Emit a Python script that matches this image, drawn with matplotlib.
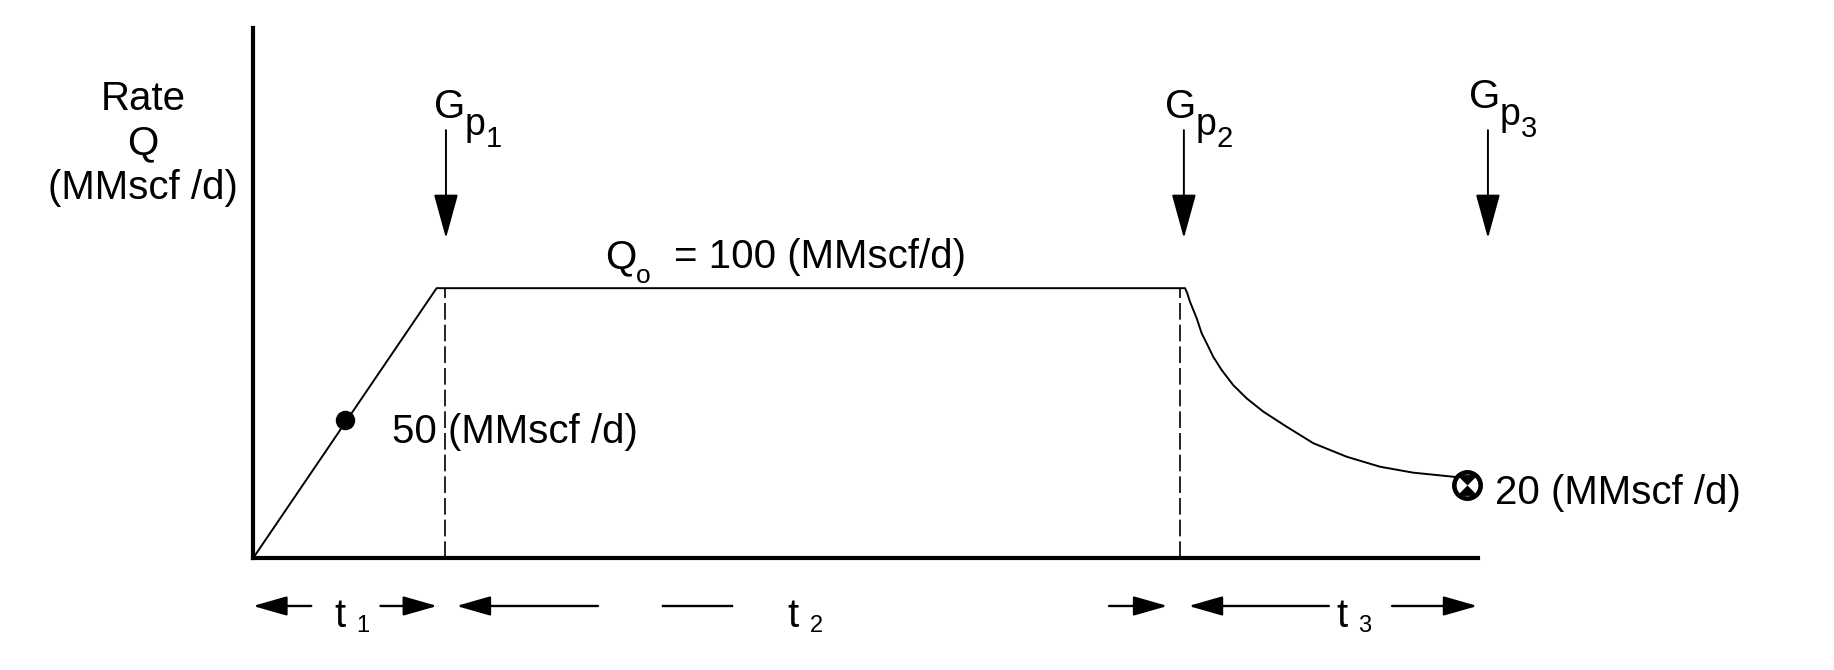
import matplotlib
matplotlib.use('Agg')
import matplotlib.pyplot as plt
import numpy as np

plt.rcParams['font.family'] = ['Liberation Sans', 'DejaVu Sans']

# Perfil de caudal (t en unidades arbitrarias, Q en MMscf/d)
T_PROFILE = [0.0, 15.7, 79.7]
Q_PROFILE = [0.0, 100.0, 100.0]
T_DECLINE = [79.7, 79.89, 80.12, 80.41, 80.70, 81.12, 81.55, 82.11, 82.83,
             83.82, 84.97, 86.39, 88.39, 90.67, 93.52, 96.37, 99.21, 102.63, 103.4]
Q_DECLINE = [100.0, 98.1, 95.0, 91.9, 88.8, 83.3, 79.6, 74.6, 69.7,
             64.1, 59.2, 54.3, 48.7, 42.6, 37.6, 33.9, 31.7, 30.2, 29.8]

# Limites de cada periodo (lineas discontinuas)
T_BOUNDS = [16.4, 79.3]

# Puntos marcados
T_MID, Q_MID = 7.9, 51.2
T_END, Q_END = 103.78, 27.3

# Produccion acumulada Gp
GP_T = [16.5, 79.6, 105.6]
GP_NUMS = ['1', '2', '3']
GP_LABEL_T = [15.5, 78.0, 104.0]
GP_LABEL_Q = [163.0, 163.0, 166.7]
GP_TOP, GP_TIP = 158.5, 118.5

# Intervalos de tiempo t1, t2, t3
SPAN_NUMS = ['1', '2', '3']
SPAN_LABEL_T = [6.95, 45.7, 92.6]
ARROWS_LEFT = [(0.0, 4.98), (17.4, 29.5), (80.0, 92.0)]    # (punta, cola)
ARROWS_RIGHT = [(10.9, 15.75), (73.2, 78.2), (97.4, 104.7)]  # (cola, punta)
GAP_SEGMENT = (35.1, 41.0)
SPAN_Q = -17.65
SPAN_TEXT_Q = -25.3

FS = 29

fig = plt.figure(figsize=(18.34, 6.70), dpi=100)
ax = fig.add_axes([253 / 1834, 111.7 / 670, (1478 - 253) / 1834, (558.3 - 28.3) / 670])
ax.set_xlim(0, 104.75)
ax.set_ylim(0, 196.2)
ax.set_xticks([])
ax.set_yticks([])
ax.spines['top'].set_visible(False)
ax.spines['right'].set_visible(False)
ax.spines['left'].set_linewidth(3)
ax.spines['bottom'].set_linewidth(3)
ax.patch.set_visible(False)

# Curva de caudal
ax.plot(T_PROFILE + T_DECLINE[1:], Q_PROFILE + Q_DECLINE[1:], color='k', lw=1.4,
        clip_on=False)

for t in T_BOUNDS:
    ax.plot([t, t], [0, 100], color='k', lw=1.2, ls=(0, (10, 3)), clip_on=False)

# Marcadores
ax.plot(T_MID, Q_MID, 'o', color='k', ms=13, zorder=4, clip_on=False)
ax.plot(T_END, Q_END, 'o', mfc='white', mec='k', ms=19, mew=3, zorder=4, clip_on=False)
hourglass = [(-1, 1), (1, 1), (0, 0), (1, -1), (-1, -1), (0, 0)]
ax.plot(T_END, Q_END, marker=hourglass, color='k', ms=15, mew=0, ls='none', zorder=5, clip_on=False)
ax.plot(T_END, Q_END, 'o', mfc='none', mec='k', ms=19, mew=3, zorder=6, clip_on=False)

ax.text(11.9, 42.5, '50 (MMscf /d)', fontsize=FS, ha='left', va='baseline')
ax.text(106.2, 20.0, '20 (MMscf /d)', fontsize=FS, ha='left', va='baseline', clip_on=False)

# Etiqueta Qo
ax.text(30.1, 107.5, 'Q', fontsize=FS, ha='left', va='baseline')
ax.annotate('o', (30.1, 107.5), xytext=(22, -11), textcoords='offset points',
            fontsize=19, ha='left', va='baseline')
ax.annotate('= 100 (MMscf/d)', (30.1, 107.5), xytext=(50, 0), textcoords='offset points',
            fontsize=FS, ha='left', va='baseline')

# Flechas Gp
for t, lt, lq, num in zip(GP_T, GP_LABEL_T, GP_LABEL_Q, GP_NUMS):
    ax.annotate('', xy=(t, GP_TIP), xytext=(t, GP_TOP), annotation_clip=False,
                arrowprops=dict(arrowstyle='-|>,head_length=28,head_width=7.7',
                                mutation_scale=1, lw=1.4, color='k',
                                shrinkA=0, shrinkB=0))
    ax.text(lt, lq, 'G', fontsize=FS, ha='left', va='baseline', clip_on=False)
    ax.annotate('p', (lt, lq), xytext=(22, -12), textcoords='offset points',
                fontsize=27, ha='left', va='baseline', annotation_clip=False)
    ax.annotate(num, (lt, lq), xytext=(37, -21), textcoords='offset points',
                fontsize=21, ha='left', va='baseline', annotation_clip=False)

# Flechas de intervalos de tiempo
span_style = dict(arrowstyle='-|>,head_length=21,head_width=6', mutation_scale=1,
                  lw=1.7, color='k', shrinkA=0, shrinkB=0)
for tip, tail in ARROWS_LEFT:
    ax.annotate('', xy=(tip, SPAN_Q), xytext=(tail, SPAN_Q), annotation_clip=False,
                arrowprops=span_style)
for tail, tip in ARROWS_RIGHT:
    ax.annotate('', xy=(tip, SPAN_Q), xytext=(tail, SPAN_Q), annotation_clip=False,
                arrowprops=span_style)
ax.plot(GAP_SEGMENT, [SPAN_Q, SPAN_Q], color='k', lw=1.7, clip_on=False)

for t, num in zip(SPAN_LABEL_T, SPAN_NUMS):
    ax.text(t, SPAN_TEXT_Q, 't', fontsize=FS, ha='left', va='baseline', clip_on=False)
    ax.annotate(num, (t, SPAN_TEXT_Q), xytext=(16, -4), textcoords='offset points',
                fontsize=17, ha='left', va='baseline', annotation_clip=False)

# Etiqueta del eje
fig.text(143 / 1834, 1 - 143.5 / 670, 'Rate\nQ\n(MMscf /d)', fontsize=FS,
         ha='center', va='center', multialignment='center', linespacing=1.21)

plt.savefig('out.png', dpi=100)
plt.close(fig)
